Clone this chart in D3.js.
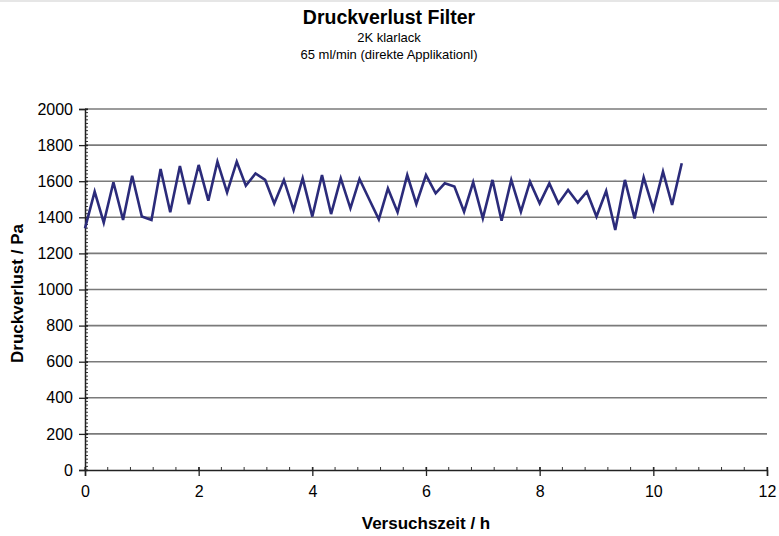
<!DOCTYPE html>
<html><head><meta charset="utf-8">
<script src="https://cdn.jsdelivr.net/npm/d3@7"></script>
<style>body{margin:0;background:#fff}svg{display:block}text{font-family:"Liberation Sans",Arial,sans-serif;fill:#000}</style>
</head><body>
<svg id="c" width="779" height="536"></svg>
<script>
const title = "Druckverlust Filter";
const subtitles = ["2K klarlack", "65 ml/min (direkte Applikationl)"];
const xLabel = "Versuchszeit / h";
const yLabel = "Druckverlust / Pa";
const xTicks = [0, 2, 4, 6, 8, 10, 12];
const yTicks = [0, 200, 400, 600, 800, 1000, 1200, 1400, 1600, 1800, 2000];
const timeH = [0, 0.17, 0.33, 0.5, 0.67, 0.83, 1, 1.17, 1.33, 1.5, 1.67, 1.83, 2, 2.17, 2.33, 2.5, 2.67, 2.83, 3, 3.17, 3.33, 3.5, 3.67, 3.83, 4, 4.17, 4.33, 4.5, 4.67, 4.83, 5, 5.17, 5.33, 5.5, 5.67, 5.83, 6, 6.17, 6.33, 6.5, 6.67, 6.83, 7, 7.17, 7.33, 7.5, 7.67, 7.83, 8, 8.17, 8.33, 8.5, 8.67, 8.83, 9, 9.17, 9.33, 9.5, 9.67, 9.83, 10, 10.17, 10.33, 10.5];
const pressurePa = [1339, 1542, 1370, 1594, 1385, 1630, 1404, 1385, 1668, 1428, 1684, 1472, 1690, 1492, 1708, 1538, 1708, 1575, 1643, 1607, 1477, 1607, 1440, 1616, 1404, 1634, 1418, 1616, 1450, 1612, 1500, 1389, 1560, 1428, 1634, 1474, 1634, 1533, 1588, 1570, 1431, 1594, 1394, 1607, 1381, 1607, 1431, 1597, 1477, 1588, 1477, 1551, 1481, 1542, 1404, 1546, 1330, 1607, 1394, 1621, 1444, 1653, 1468, 1699];

const svg = d3.select("#c");
const L = 85, R = 767, T = 109, B = 470;
const x = d3.scaleLinear().domain([0, 12]).range([L, R]);
const y = d3.scaleLinear().domain([0, 2000]).range([B, T]);

// gridlines
svg.append("g").selectAll("line").data(yTicks.filter(d => d > 0)).join("line")
  .attr("x1", L).attr("x2", R).attr("y1", d => y(d)).attr("y2", d => y(d))
  .attr("stroke", "#7a7a7a").attr("stroke-width", 1.6);

// minor ticks
const yMinor = d3.range(0, 2001, 20);
svg.append("g").selectAll("line").data(yMinor).join("line")
  .attr("x1", L).attr("x2", L + 3).attr("y1", d => y(d)).attr("y2", d => y(d))
  .attr("stroke", "#333").attr("stroke-width", 1);
const xMinor = d3.range(0, 12.01, 0.4);
svg.append("g").selectAll("line").data(xMinor).join("line")
  .attr("x1", d => x(d)).attr("x2", d => x(d)).attr("y1", B).attr("y2", B - 3)
  .attr("stroke", "#333").attr("stroke-width", 1);

// axes
const yAxis = d3.axisLeft(y).tickValues(yTicks).tickSize(6).tickPadding(6).tickFormat(d3.format("d"));
const gy = svg.append("g").attr("transform", `translate(${L},0)`).call(yAxis);
const xAxis = d3.axisBottom(x).tickValues(xTicks).tickSize(6).tickPadding(10).tickFormat(d3.format("d"));
const gx = svg.append("g").attr("transform", `translate(0,${B})`).call(xAxis);
[gy, gx].forEach(g => {
  g.select(".domain").attr("stroke", "#222").attr("stroke-width", 1.5);
  g.selectAll(".tick line").attr("stroke", "#222").attr("stroke-width", 1.3);
  g.selectAll(".tick text").attr("font-size", 16).attr("font-family", "Liberation Sans, Arial, sans-serif").attr("fill", "#000");
});
gy.selectAll(".tick line").attr("x2", -6).attr("x1", 3);
gx.selectAll(".tick line").attr("y1", -3);

// line
const line = d3.line().x((d, i) => x(timeH[i])).y(d => y(d));
svg.append("path").datum(pressurePa).attr("d", line)
  .attr("fill", "none").attr("stroke", "#2b2b7a").attr("stroke-width", 2.6).attr("stroke-linejoin", "miter");

// titles
svg.append("text").attr("x", 389).attr("y", 24).attr("text-anchor", "middle")
  .attr("font-size", 19.5).attr("font-weight", "bold").text(title);
subtitles.forEach((s, i) => svg.append("text").attr("x", 389).attr("y", 42 + i * 17)
  .attr("text-anchor", "middle").attr("font-size", 13).text(s));
svg.append("text").attr("x", (L + R) / 2).attr("y", 529).attr("text-anchor", "middle")
  .attr("font-size", 17).attr("font-weight", "bold").text(xLabel);
svg.append("text").attr("transform", `translate(23,${(T + B) / 2 + 4}) rotate(-90)`).attr("text-anchor", "middle")
  .attr("font-size", 17).attr("font-weight", "bold").text(yLabel);

// faint frame at top
svg.append("line").attr("x1", 0).attr("x2", 779).attr("y1", 1).attr("y2", 1).attr("stroke", "#e6e6e6").attr("stroke-width", 2);
</script>
</body></html>
